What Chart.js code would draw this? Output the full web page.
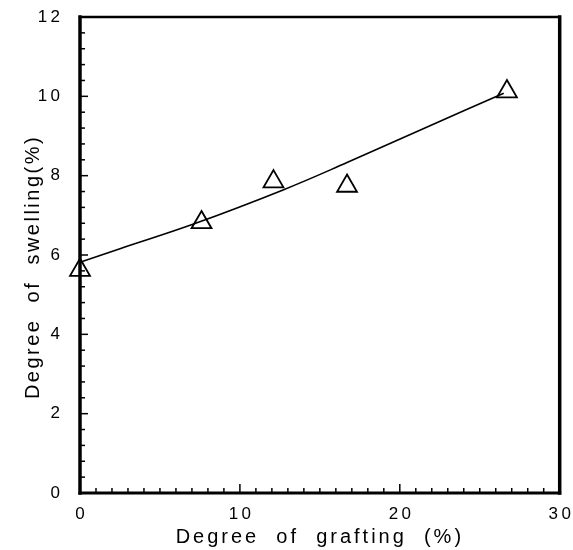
<!DOCTYPE html>
<html>
<head>
<meta charset="utf-8">
<title>Degree of swelling vs grafting</title>
<script src="https://cdn.jsdelivr.net/npm/chart.js@4.4.1/dist/chart.umd.min.js"></script>
<style>
  html, body { margin: 0; padding: 0; background: #fff; }
  #wrap { width: 573px; height: 550px; }
</style>
</head>
<body>
<div id="wrap"><canvas id="swelling" aria-label="degree of swelling chart" role="img"></canvas></div>
<script>
// measured points
const graftingX = [0, 7.6, 12.1, 16.7, 26.7];
const swellingY = [5.62, 6.82, 7.85, 7.74, 10.12];

// fitted curve through the points
const fitX = [0, 2.5, 7.1, 12.7, 16.7, 21.5, 26.5];
const fitY = [5.82, 6.16, 6.78, 7.64, 8.33, 9.19, 10.08];

const xTickLabels = [0, 10, 20, 30];
const yTickLabels = [0, 2, 4, 6, 8, 10, 12];

const xTitle = 'Degree  of  grafting  (%)';
const yTitle = 'Degree  of  swelling(%)';

const FONT = '"Liberation Sans", Arial, sans-serif';

const toPoints = (xs, ys) => xs.map((x, i) => ({ x: x, y: ys[i] }));

// spaced-out digits for tick labels
const spaced = (value) => String(value).split('').join('\u2009');

// fixed axis box sizes; drop the extra label padding so layout.padding sets the plot box
const fixAxis = (size) => (scale) => {
  if (scale.isHorizontal()) scale.height = size;
  else scale.width = size;
  scale.paddingTop = 0;
  scale.paddingBottom = 0;
  scale.paddingLeft = 0;
  scale.paddingRight = 0;
};

// box frame with inward ticks
const frame = {
  id: 'frame',
  afterDatasetsDraw(chart) {
    const { ctx, chartArea: a, scales } = chart;
    const x = scales.x;
    const y = scales.y;
    const seg = (x1, y1, x2, y2) => {
      ctx.beginPath();
      ctx.moveTo(x1, y1);
      ctx.lineTo(x2, y2);
      ctx.stroke();
    };
    ctx.save();
    ctx.strokeStyle = '#000';
    ctx.lineWidth = 1.5;
    for (let v = 0; v <= 30; v++) {
      const px = x.getPixelForValue(v);
      seg(px, a.bottom, px, a.bottom - (v % 10 === 0 ? 9 : 5));
    }
    for (let i = 0; i <= 30; i++) {
      const py = y.getPixelForValue(i * 0.4);
      seg(a.left, py, a.left + (i % 5 === 0 ? 8 : 5), py);
    }
    ctx.lineCap = 'square';
    ctx.lineWidth = 3.5;
    seg(a.left, a.top, a.left, a.bottom);
    seg(a.right, a.top, a.right, a.bottom);
    ctx.lineWidth = 3;
    seg(a.left, a.bottom, a.right, a.bottom);
    ctx.lineWidth = 2.5;
    seg(a.left, a.top, a.right, a.top);
    ctx.restore();
  },
};

// axis titles
const titles = {
  id: 'titles',
  afterDraw(chart) {
    const { ctx, chartArea: a } = chart;
    ctx.save();
    ctx.fillStyle = '#000';
    ctx.font = '20px ' + FONT;
    ctx.textAlign = 'center';
    ctx.textBaseline = 'alphabetic';
    ctx.letterSpacing = '3px';
    ctx.fillText(xTitle, (a.left + a.right) / 2, 543);
    ctx.letterSpacing = '2.5px';
    ctx.translate(39, (a.top + a.bottom) / 2 + 12);
    ctx.rotate(-Math.PI / 2);
    ctx.fillText(yTitle, 0, 0);
    ctx.restore();
  },
};

new Chart(document.getElementById('swelling'), {
  type: 'scatter',
  data: {
    datasets: [
      {
        label: 'swelling',
        data: toPoints(graftingX, swellingY),
        pointStyle: 'triangle',
        pointRadius: 11.5,
        pointHoverRadius: 11.5,
        pointBorderWidth: 1.8,
        pointBorderColor: '#000',
        pointBackgroundColor: 'rgba(0,0,0,0)',
        showLine: false,
        clip: false,
      },
      {
        label: 'fit',
        data: toPoints(fitX, fitY),
        showLine: true,
        borderColor: '#000',
        borderWidth: 1.6,
        pointRadius: 0,
        tension: 0.4,
        clip: false,
      },
    ],
  },
  options: {
    responsive: true,
    maintainAspectRatio: false,
    animation: false,
    events: [],
    layout: { padding: { top: 17, right: 13, left: 0, bottom: 0 } },
    plugins: { legend: { display: false }, tooltip: { enabled: false } },
    scales: {
      x: {
        type: 'linear',
        min: 0,
        max: 30,
        afterBuildTicks: (scale) => { scale.ticks = xTickLabels.map(v => ({ value: v })); },
        afterFit: fixAxis(57),
        grid: { display: false, drawTicks: false },
        border: { display: false },
        ticks: { padding: 11, color: '#000', font: { family: FONT, size: 17 }, callback: spaced },
      },
      y: {
        type: 'linear',
        min: 0,
        max: 12,
        afterBuildTicks: (scale) => { scale.ticks = yTickLabels.map(v => ({ value: v })); },
        afterFit: fixAxis(80),
        grid: { display: false, drawTicks: false },
        border: { display: false },
        ticks: { padding: 20, color: '#000', font: { family: FONT, size: 17 }, callback: spaced },
      },
    },
  },
  plugins: [frame, titles],
});
</script>
</body>
</html>
